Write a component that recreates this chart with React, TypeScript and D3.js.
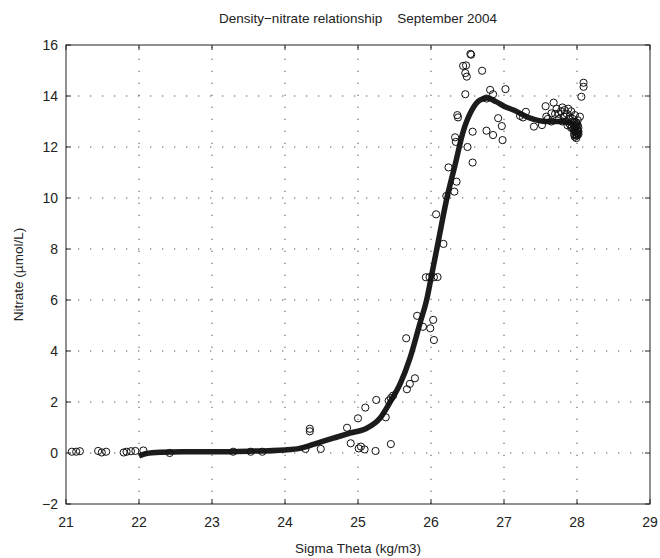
import React, { useEffect, useRef } from "react";
import * as d3 from "d3";

const xTicks = [21, 22, 23, 24, 25, 26, 27, 28, 29];
const yTicks = [-2, 0, 2, 4, 6, 8, 10, 12, 14, 16];

const sigma = [
  21.08, 21.14, 21.19, 21.44, 21.49, 21.55, 21.79, 21.83, 21.89, 21.95,
  22.06, 22.42, 23.29, 23.53, 23.69, 24.28, 24.34, 24.34, 24.49, 24.85,
  24.9, 25.0, 25.01, 25.04, 25.09, 25.1, 25.24, 25.25, 25.38, 25.42,
  25.45, 25.48, 25.45, 25.67, 25.71, 25.78, 25.66, 25.81, 25.89, 25.99,
  26.03, 26.04, 25.93, 25.98, 26.04, 26.09, 26.17, 26.07, 26.21, 26.32,
  26.35, 26.24, 26.33, 26.34, 26.5, 26.57, 26.57, 26.36, 26.37, 26.47,
  26.47, 26.49, 26.44, 26.48, 26.54, 26.55, 26.7, 26.81, 26.85, 27.02,
  26.76, 26.92, 26.97, 26.76, 26.85, 26.98, 27.22, 27.26, 27.3, 27.41,
  27.52, 27.57, 27.68, 27.58, 27.65, 28.09, 28.09, 28.06, 28.04,
  27.6, 27.65, 27.7, 27.72, 27.75, 27.75, 27.78, 27.8, 27.8, 27.82,
  27.83, 27.85, 27.86, 27.87, 27.88, 27.9, 27.9, 27.92, 27.93, 27.94,
  27.95, 27.96, 27.96, 27.97, 27.97, 27.98, 27.98, 27.99, 27.99, 28.0,
  28.0, 28.0, 28.01, 28.01, 28.02, 28.02,
  27.96, 27.97, 27.98, 27.99, 28.0, 28.01, 28.02, 27.97, 27.99, 28.01,
  27.94, 27.92, 27.89,
];

const nitrate = [
  0.05, 0.05, 0.07, 0.08, 0.02, 0.05, 0.02, 0.05, 0.07, 0.08,
  0.1, 0.0, 0.05, 0.05, 0.05, 0.16, 0.95, 0.85, 0.16, 0.99,
  0.38, 1.36, 0.18, 0.25, 0.14, 1.78, 0.08, 2.08, 1.4, 2.05,
  2.15, 2.25, 0.35, 2.5, 2.71, 2.93, 4.5, 5.38, 4.95, 4.89,
  5.22, 4.43, 6.89, 6.9, 6.89, 6.9, 8.2, 9.36, 10.08, 10.25,
  10.64, 11.2, 12.38, 12.2, 12.0, 11.39, 12.6, 13.25, 13.16, 14.07,
  14.9, 14.76, 15.18, 15.2, 15.65, 15.62, 14.99, 14.24, 14.07, 14.27,
  13.9, 13.13, 12.82, 12.64, 12.47, 12.27, 13.22, 13.16, 13.38, 12.8,
  12.86, 13.6, 13.74, 13.19, 13.32, 14.52, 14.36, 13.97, 13.19,
  13.1, 13.0, 13.3, 13.5, 13.1, 13.3, 13.4, 13.55, 13.0, 13.2,
  13.45, 13.0, 13.3, 12.85, 13.5, 12.9, 13.2, 13.4, 12.8, 13.1,
  12.7, 12.95, 12.65, 13.25, 12.6, 12.8, 12.45, 12.5, 12.85, 12.7,
  12.9, 12.55, 13.05, 12.65, 12.6, 12.75,
  12.5, 12.4, 12.6, 12.35, 12.45, 12.55, 12.5, 12.75, 12.95, 12.85,
  13.0, 12.75, 13.1,
];

const fitSigma = [
  22.0, 22.1, 22.3, 22.6, 23.0, 23.5, 24.0, 24.2, 24.4, 24.66,
  24.89, 25.12, 25.3, 25.44, 25.58, 25.71, 25.85, 25.94, 26.0, 26.1,
  26.21, 26.33, 26.44, 26.56, 26.67, 26.77, 26.89, 27.0, 27.13, 27.36,
  27.58, 27.77, 27.9, 28.0,
];
const fitNitrate = [
  -0.12, -0.02, 0.03, 0.05, 0.05, 0.07, 0.12, 0.18, 0.35, 0.58,
  0.78, 0.97, 1.36, 2.0, 2.73, 3.7, 5.1, 6.0, 6.85, 8.3,
  9.9, 11.3, 12.6, 13.45, 13.84, 13.92, 13.78, 13.6, 13.45, 13.13,
  13.0, 13.0, 12.95, 12.8,
];

const W = 660;
const H = 558;
const M = { left: 66, right: 650, top: 45, bottom: 504 };
const FONT = "'Liberation Sans', Arial, Helvetica, sans-serif";

export default function App() {
  const ref = useRef<SVGSVGElement | null>(null);

  useEffect(() => {
    const svg = d3.select(ref.current);
    svg.selectAll("*").remove();

    const x = d3.scaleLinear().domain([21, 29]).range([M.left, M.right]);
    const y = d3.scaleLinear().domain([-2, 16]).range([M.bottom, M.top]);

    svg.append("rect").attr("width", W).attr("height", H).attr("fill", "#fff");

    const grid = svg.append("g");
    xTicks.slice(1, -1).forEach((t) => {
      grid.append("line")
        .attr("x1", x(t)).attr("x2", x(t))
        .attr("y1", M.bottom).attr("y2", M.top)
        .attr("stroke", "#555").attr("stroke-width", 1)
        .attr("stroke-dasharray", "1.3 10.7");
    });
    yTicks.slice(1, -1).forEach((t) => {
      grid.append("line")
        .attr("x1", M.left).attr("x2", M.right)
        .attr("y1", y(t)).attr("y2", y(t))
        .attr("stroke", "#555").attr("stroke-width", 1)
        .attr("stroke-dasharray", "1.3 10.7");
    });

    const line = d3.line<number>()
      .x((_, i) => x(fitSigma[i]))
      .y((d) => y(d))
      .curve(d3.curveMonotoneX);
    svg.append("path")
      .attr("d", line(fitNitrate) || "")
      .attr("fill", "none")
      .attr("stroke", "#1c1c1c")
      .attr("stroke-width", 5.5)
      .attr("stroke-linecap", "butt")
      .attr("stroke-linejoin", "round");

    const pts = svg.append("g");
    sigma.forEach((s, i) => {
      pts.append("circle")
        .attr("cx", x(s)).attr("cy", y(nitrate[i]))
        .attr("r", 3.6)
        .attr("fill", "none")
        .attr("stroke", "#111")
        .attr("stroke-width", 1);
    });

    svg.append("rect")
      .attr("x", M.left).attr("y", M.top)
      .attr("width", M.right - M.left).attr("height", M.bottom - M.top)
      .attr("fill", "none").attr("stroke", "#222").attr("stroke-width", 1);

    const tl = 5;
    const ticks = svg.append("g").attr("stroke", "#222").attr("stroke-width", 1);
    xTicks.forEach((t) => {
      ticks.append("line").attr("x1", x(t)).attr("x2", x(t)).attr("y1", M.bottom).attr("y2", M.bottom - tl);
      ticks.append("line").attr("x1", x(t)).attr("x2", x(t)).attr("y1", M.top).attr("y2", M.top + tl);
    });
    yTicks.forEach((t) => {
      ticks.append("line").attr("x1", M.left).attr("x2", M.left + tl).attr("y1", y(t)).attr("y2", y(t));
      ticks.append("line").attr("x1", M.right).attr("x2", M.right - tl).attr("y1", y(t)).attr("y2", y(t));
    });

    const fmt = (v: number) => (v < 0 ? "\u2212" + Math.abs(v) : String(v));

    const labels = svg.append("g")
      .attr("font-family", FONT).attr("font-size", 14).attr("fill", "#222");
    xTicks.forEach((t) => {
      labels.append("text")
        .attr("x", x(t)).attr("y", M.bottom + 23)
        .attr("text-anchor", "middle")
        .text(fmt(t));
    });
    yTicks.forEach((t) => {
      labels.append("text")
        .attr("x", M.left - 8).attr("y", y(t))
        .attr("dy", "0.35em")
        .attr("text-anchor", "end")
        .text(fmt(t));
    });

    labels.append("text")
      .attr("x", (M.left + M.right) / 2).attr("y", 553)
      .attr("font-size", 13.5)
      .attr("text-anchor", "middle")
      .text("Sigma Theta (kg/m3)");

    labels.append("text")
      .attr("transform", `translate(18,${(M.top + M.bottom) / 2}) rotate(-90)`)
      .attr("font-size", 13.5)
      .attr("dy", "0.35em")
      .attr("text-anchor", "middle")
      .text("Nitrate (\u00b5mol/L)");

    labels.append("text")
      .attr("x", (M.left + M.right) / 2).attr("y", 23)
      .attr("font-size", 13.5)
      .attr("text-anchor", "middle")
      .attr("xml:space", "preserve")
      .style("white-space", "pre")
      .text("Density\u2212nitrate relationship    September 2004");
  }, []);

  return (
    <svg
      ref={ref}
      width={W}
      height={H}
      style={{ position: "absolute", left: 0, top: 0, display: "block" }}
    />
  );
}
